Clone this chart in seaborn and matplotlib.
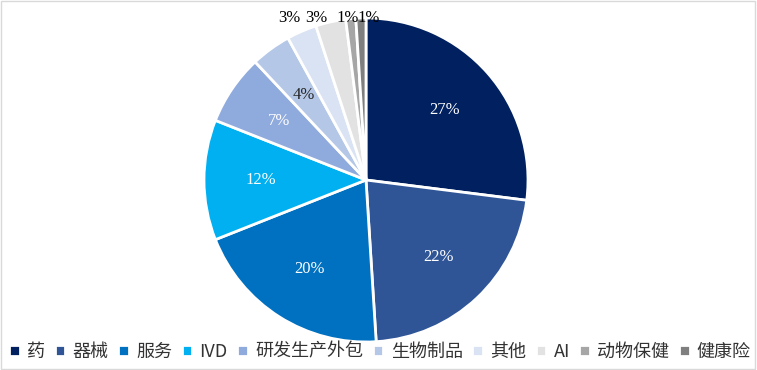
import numpy as np
import matplotlib
matplotlib.use("Agg")
import matplotlib.pyplot as plt
import seaborn as sns
from matplotlib.patches import Rectangle

sns.set_style("white")
plt.rcParams['font.family'] = ['Noto Sans CJK SC', 'DejaVu Sans']

categories = ["药", "器械", "服务", "IVD", "研发生产外包", "生物制品", "其他", "AI", "动物保健", "健康险"]
values = [27, 22, 20, 12, 7, 4, 3, 3, 1, 1]
colors = ["#002060", "#2F5597", "#0070C0", "#00B0F0", "#8FAADC",
          "#B4C7E7", "#DAE3F3", "#E2E2E2", "#A6A6A6", "#7F7F7F"]
text_colors = ["white", "white", "white", "white", "white",
               "#262626", "black", "black", "black", "black"]

palette = sns.color_palette(colors)

fig = plt.figure(figsize=(7.57, 3.70), dpi=100)
ax = fig.add_axes([366 / 757 - 162 / 757, 1 - 180 / 370 - 162 / 370, 324 / 757, 324 / 370])

wedges, _ = ax.pie(values, colors=palette, startangle=90, counterclock=False,
                   radius=1.0, wedgeprops=dict(edgecolor="white", linewidth=2))
ax.set_xlim(-1, 1)
ax.set_ylim(-1, 1)
ax.axis("off")

# percentage labels; tiny slices go outside along the top edge
nudge = {6: -0.03, 7: -0.06, 8: -0.005, 9: 0.05}
for i, (w, v, tc) in enumerate(zip(wedges, values, text_colors)):
    mid = np.deg2rad((w.theta1 + w.theta2) / 2)
    if v >= 4:
        r = 0.65
        x, y = r * np.cos(mid), r * np.sin(mid)
    else:
        r = 1.12
        x, y = r * np.cos(mid) + nudge.get(i, 0), min(r * np.sin(mid), 1.0)
    ax.text(x, y, f"{v}%", ha="center", va="center", color=tc,
            fontsize=12, family=["Liberation Serif", "DejaVu Serif"], clip_on=False)

leg = fig.legend(wedges, categories, loc="center", bbox_to_anchor=(0.502, 0.049),
                 ncol=len(categories), frameon=False, fontsize=13,
                 handlelength=0.6, handleheight=0.6, handletextpad=0.4,
                 columnspacing=0.52, labelcolor="#333333")

fig.patches.append(Rectangle((0.001, 0.002), 0.997, 0.995, transform=fig.transFigure,
                             fill=False, edgecolor="#d9d9d9", linewidth=1))

fig.savefig("out.png", dpi=100)
